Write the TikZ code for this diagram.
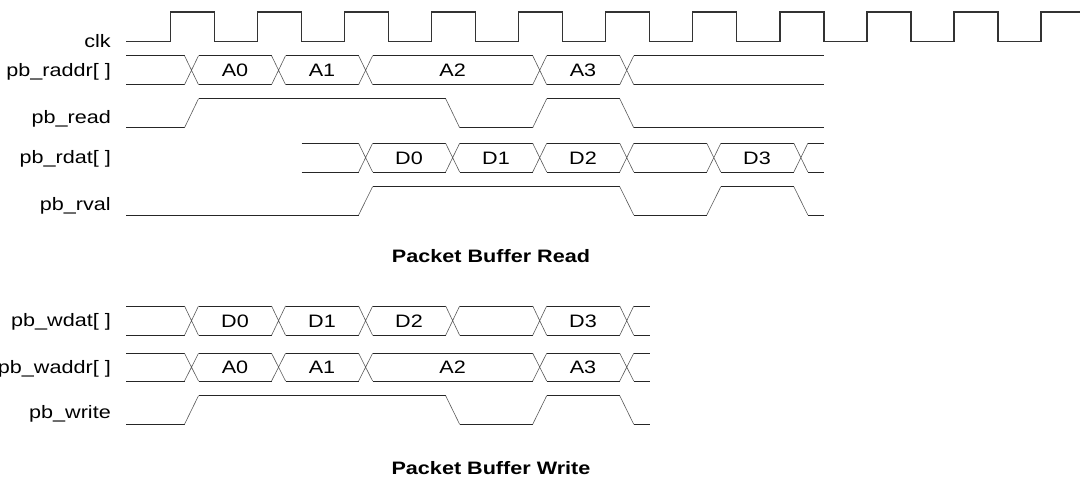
\documentclass[tikz,border=0pt]{standalone}
\usepackage{fontspec}
\setmainfont{Liberation Sans}[FakeStretch=1.2]
\tikzset{
  lvl/.style={line width=1pt, draw=black!85},
  edge/.style={line width=0.6pt, draw=black!65},
  clkline/.style={line width=1.3pt, draw=black!80},
  siglabel/.style={anchor=base east, inner sep=0pt, font=\fontsize{18}{20}\selectfont},
  vallabel/.style={anchor=base, inner sep=0pt, font=\fontsize{18}{20}\selectfont},
  titlelabel/.style={anchor=base, inner sep=0pt, font=\fontsize{18}{20}\selectfont\bfseries},
}
% bus: #1 top y, #2 bottom y, #3 start x, #4 end x, #5 clock indices of transitions
\newcommand\busrow[5]{%
  \xdef\bprev{#3}%
  \foreach \k in {#5}{%
    \pgfmathsetmacro\xa{184.5+87.05*\k}%
    \pgfmathsetmacro\xb{\xa+14}%
    \draw[lvl] (\bprev,#1) -- (\xa,#1) (\bprev,#2) -- (\xa,#2);%
    \draw[edge] (\xa,#1) -- (\xb,#2) (\xa,#2) -- (\xb,#1);%
    \xdef\bprev{\xb}%
  }%
  \draw[lvl] (\bprev,#1) -- (#4,#1) (\bprev,#2) -- (#4,#2);%
}
% single bit, starts low: #1 high y, #2 low y, #3 start x, #4 end x, #5 toggle indices
\newcommand\bitrow[5]{%
  \xdef\bprev{#3}\xdef\blev{#2}\xdef\bnext{#1}%
  \foreach \k in {#5}{%
    \pgfmathsetmacro\xa{184.5+87.05*\k}%
    \pgfmathsetmacro\xb{\xa+14}%
    \draw[lvl] (\bprev,\blev) -- (\xa,\blev);%
    \draw[edge] (\xa,\blev) -- (\xb,\bnext);%
    \xdef\bprev{\xb}\xdef\bswap{\blev}\xdef\blev{\bnext}\xdef\bnext{\bswap}%
  }%
  \draw[lvl] (\bprev,\blev) -- (#4,\blev);%
}
\begin{document}
\begin{tikzpicture}[x=1pt,y=-1pt]
\useasboundingbox (0,0) rectangle (1080,479);

% clock
\draw[clkline] (126,41.3)
  \foreach \k in {0,...,9}{ -- ({170.5+87.05*\k},41.3) -- ++(0,-29.3) -- ++(44,0) -- ++(0,29.3)}
  -- (1041,41.3) -- (1041,12) -- (1080,12);

% ---- read section ----
\busrow{55.7}{84.7}{126}{823.85}{0,1,2,4,5}
\bitrow{98.7}{127.7}{126}{823.85}{0,3,4,5}
\busrow{143.3}{172}{301.55}{823.85}{2,3,4,5,6,7}
\bitrow{186.7}{215}{126}{823.85}{2,5,6,7}

% ---- write section ----
\busrow{306}{335.3}{126}{649.75}{0,1,2,3,4,5}
\busrow{353.3}{381}{126}{649.75}{0,1,2,4,5}
\bitrow{395.7}{424.3}{126}{649.75}{0,3,4,5}

% signal names
\node[siglabel] (lclk)   at (111,47.5)  {clk};
\node[siglabel] (lraddr) at (111,76)    {pb\_raddr[ ]};
\node[siglabel] (lread)  at (111,123)   {pb\_read};
\node[siglabel] (lrdat)  at (111,163.5) {pb\_rdat[ ]};
\node[siglabel] (lrval)  at (111,210.5) {pb\_rval};
\node[siglabel] (lwdat)  at (111,326.5) {pb\_wdat[ ]};
\node[siglabel] (lwaddr) at (111,373)   {pb\_waddr[ ]};
\node[siglabel] (lwrite) at (111,418)   {pb\_write};

% bus values (read)
\node[vallabel] (ra0) at (235,76.7)  {A0};
\node[vallabel] (ra1) at (322,76.7)  {A1};
\node[vallabel] (ra2) at (452.6,76.7) {A2};
\node[vallabel] (ra3) at (583,76.7)  {A3};
\node[vallabel] (rd0) at (409,164.2) {D0};
\node[vallabel] (rd1) at (496,164.2) {D1};
\node[vallabel] (rd2) at (583,164.2) {D2};
\node[vallabel] (rd3) at (757,164.2) {D3};

% bus values (write)
\node[vallabel] (wd0) at (235,327.2) {D0};
\node[vallabel] (wd1) at (322,327.2) {D1};
\node[vallabel] (wd2) at (409,327.2) {D2};
\node[vallabel] (wd3) at (583,327.2) {D3};
\node[vallabel] (wa0) at (235,373.7) {A0};
\node[vallabel] (wa1) at (322,373.7) {A1};
\node[vallabel] (wa2) at (452.6,373.7) {A2};
\node[vallabel] (wa3) at (583,373.7) {A3};

% titles
\node[titlelabel] (tread)  at (491,262.5) {Packet Buffer Read};
\node[titlelabel] (twrite) at (491,474.5) {Packet Buffer Write};
\end{tikzpicture}
\end{document}
